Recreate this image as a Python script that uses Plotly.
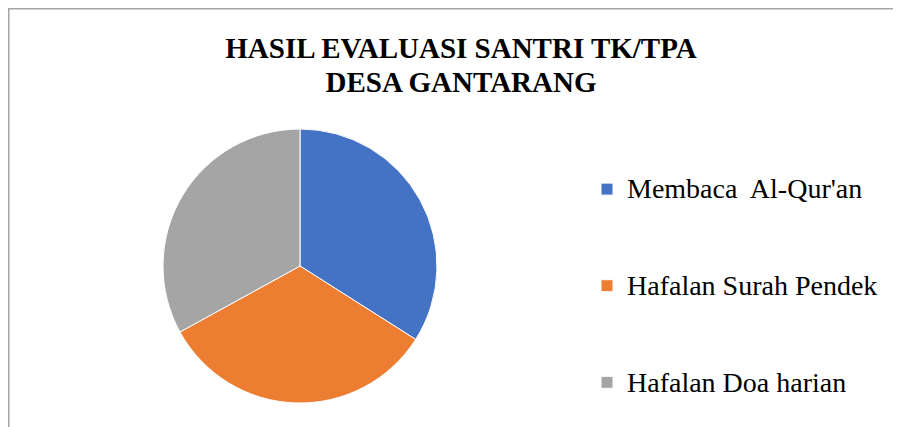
import plotly.graph_objects as go

categories = ["Membaca  Al-Qur'an", "Hafalan Surah Pendek", "Hafalan Doa harian"]
values = [34, 33, 33]
colors = ["#4472C4", "#ED7D31", "#A5A5A5"]
title_lines = ["HASIL EVALUASI SANTRI TK/TPA", "DESA GANTARANG"]

W, H = 901, 427
OFF = 8  # page body margin in the browser

# legend entries: blank lines above items 2 and 3 give the wide spacing
legend_labels = [
    ("" if i == 0 else "<br><br>") + '<span style="font-size:28px">' + c + "</span>"
    for i, c in enumerate(categories)
]

title_text = "<br>".join(
    '<span style="font-size:29px"><b>' + t + "</b></span>" for t in title_lines
)

fig = go.Figure(
    go.Pie(
        labels=legend_labels,
        values=values,
        marker=dict(colors=colors, line=dict(color="white", width=1)),
        sort=False,
        direction="clockwise",
        rotation=0,
        textinfo="none",
        hovertemplate="%{customdata}: %{value}<extra></extra>",
        customdata=categories,
        domain=dict(
            x=[(163 - OFF) / W, (437 - OFF) / W],
            y=[1 - (403 - OFF) / H, 1 - (129 - OFF) / H],
        ),
    )
)

fig.update_layout(
    width=W,
    height=H,
    margin=dict(l=0, r=0, t=0, b=0, autoexpand=False),
    paper_bgcolor="white",
    plot_bgcolor="white",
    title=dict(
        text=title_text,
        font=dict(family="Liberation Serif", size=26, color="black"),
        x=(461 - OFF) / W,
        xanchor="center",
        xref="paper",
        y=1 - 50 / H,
        yanchor="top",
        yref="container",
    ),
    legend=dict(
        x=579 / W,
        xanchor="left",
        y=1 - 159 / H,
        yanchor="top",
        valign="bottom",
        font=dict(family="Liberation Serif", size=24, color="black"),
        bgcolor="rgba(0,0,0,0)",
        itemwidth=30,
    ),
    shapes=[
        dict(
            type="rect",
            xref="paper",
            yref="paper",
            x0=0.75 / W,
            x1=1.05,
            y0=-0.05,
            y1=1 - 0.75 / H,
            line=dict(color="#A6A6A6", width=1.5),
            fillcolor="rgba(0,0,0,0)",
            layer="below",
        )
    ],
)

fig.write_html("out.html")
